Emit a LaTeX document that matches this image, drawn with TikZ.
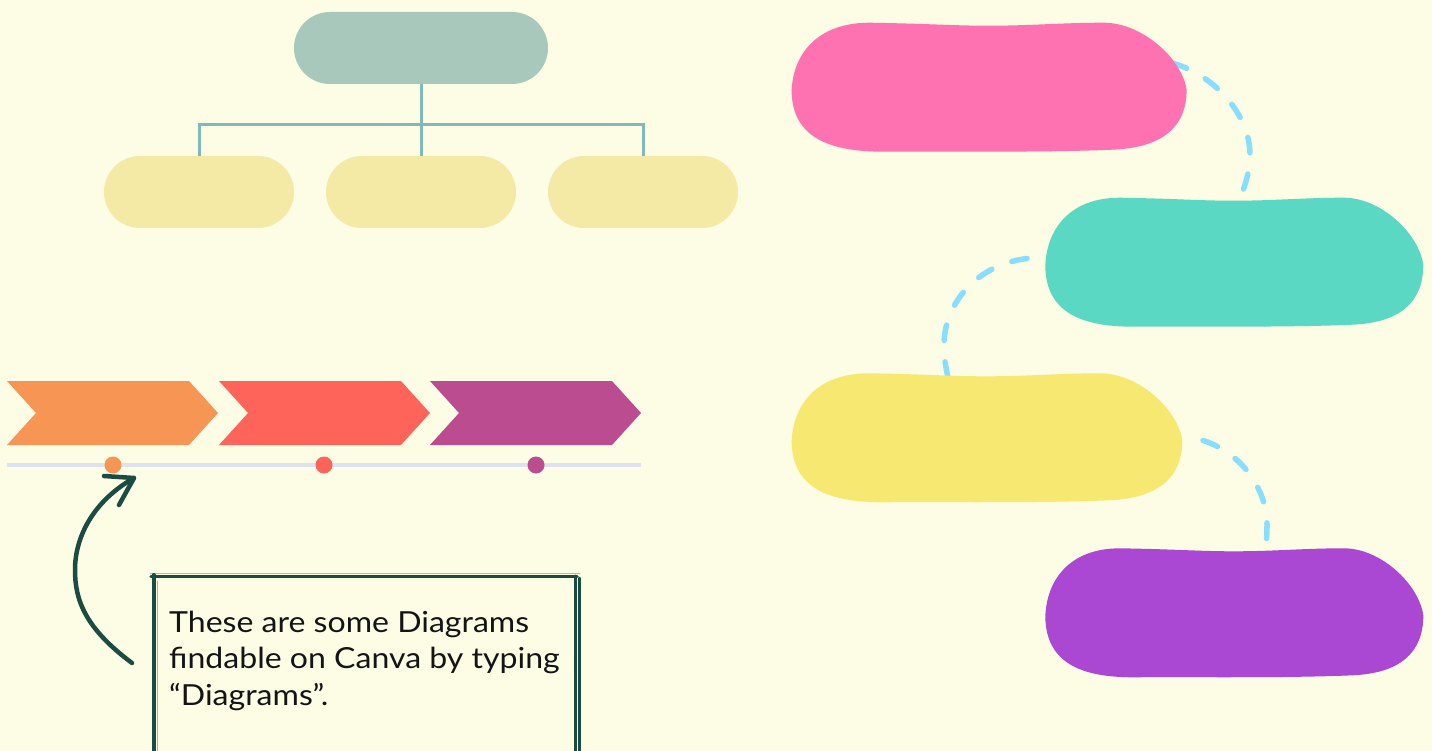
\documentclass[tikz,border=0pt]{standalone}
\usepackage{fontspec}
\setmainfont{Lato}[FakeStretch=1.105]
\definecolor{bgc}{HTML}{FCFDE4}
\definecolor{orgtopc}{HTML}{A8C8BC}
\definecolor{orgbotc}{HTML}{F4EAA5}
\definecolor{orglinec}{HTML}{80BAB8}
\definecolor{chevA}{HTML}{F79654}
\definecolor{chevB}{HTML}{FF645B}
\definecolor{chevC}{HTML}{BC4C90}
\definecolor{timec}{HTML}{DEE2F0}
\definecolor{darkg}{HTML}{1B4C41}
\definecolor{textc}{HTML}{141414}
\definecolor{pinkc}{HTML}{FF72B1}
\definecolor{tealc}{HTML}{5AD8C3}
\definecolor{yellowc}{HTML}{F7E871}
\definecolor{purplec}{HTML}{AA47D3}
\definecolor{dashc}{HTML}{88DEFD}
\def\blobpath{(0,69) .. controls (1,32) and (25,0) .. (78,0) .. controls (140,1) and (160,3) .. (197,3) .. controls (240,3) and (270,0) .. (312,0) .. controls (350,0) and (390,35) .. (395,67) .. controls (395,105) and (370,125) .. (321,127) .. controls (250,130) and (150,128.5) .. (92,129) .. controls (38,129) and (1,115) .. (0,69) -- cycle}
\begin{document}
\begin{tikzpicture}[x=1pt,y=-1pt,
  orgtop/.style={fill=orgtopc, rounded corners=36pt, minimum width=254pt, minimum height=72pt, inner sep=0pt},
  orgbot/.style={fill=orgbotc, rounded corners=36pt, minimum width=190pt, minimum height=72pt, inner sep=0pt},
  orgline/.style={draw=orglinec, line width=3pt},
  dashline/.style={draw=dashc, line width=5.5pt, line cap=round, dash pattern=on 15.5pt off 21.5pt},
  dotnode/.style={circle, inner sep=0pt, minimum size=17pt},
  txt/.style={anchor=base west, inner sep=0pt, font=\fontsize{29}{35}\selectfont, text=textc},
  penline/.style={draw=darkg, line cap=round, line join=round}]
\useasboundingbox (0,0) rectangle (1432,751);
\fill[bgc] (0,0) rectangle (1432,751);
% org chart
\node[orgtop] (top) at (421,48) {};
\node[orgbot] (b1) at (199,192) {};
\node[orgbot] (b2) at (421,192) {};
\node[orgbot] (b3) at (643,192) {};
\coordinate (bus) at (421,125);
\draw[orgline] (top.south) -- (b2.north);
\draw[orgline] (b1.north) -- (b1.north |- bus) -- (b3.north |- bus) -- (b3.north);
% chevrons
\fill[chevA] (7,381) -- (189,381) -- (218,413) -- (189,445) -- (7,445) -- (36,413) -- cycle;
\fill[chevB] (219,381) -- (401,381) -- (430,413) -- (401,445) -- (219,445) -- (248,413) -- cycle;
\fill[chevC] (430,381) -- (612,381) -- (641,413) -- (612,445) -- (430,445) -- (459,413) -- cycle;
% timeline
\coordinate (tl0) at (7,465);
\coordinate (tl1) at (641,465);
\draw[timec, line width=4pt] (tl0) -- (tl1);
\node[dotnode, fill=chevA] (p1) at (113,465) {};
\node[dotnode, fill=chevB] (p2) at (324,465) {};
\node[dotnode, fill=chevC] (p3) at (536,465) {};
% curved arrow
\coordinate (as) at (132,663);
\coordinate (ae) at (134,478);
\draw[penline, line width=4.5pt] (as) .. controls (85,628) and (75,600) .. (75,570) .. controls (75,535) and (95,500) .. (ae);
\draw[penline, line width=4.5pt] (104,476) -- (ae) -- (119,505);
% text frame
\draw[penline, line width=1pt, draw opacity=0.35] (150,573) -- (580,573);
\draw[penline, line width=4pt] (153.5,575) -- (153.5,755);
\draw[penline, line width=1pt, draw opacity=0.4] (157.5,581) -- (157.5,755);
\draw[penline, line width=3.5pt] (151,576.5) -- (577,576.5);
\draw[penline, line width=3pt] (575,576) -- (575,755);
\draw[penline, line width=2.5pt] (579.5,578) -- (579.5,755);
\node[txt] (t1) at (169,632) {These are some Diagrams};
\node[txt] (t2) at (169,668) {findable on Canva by typing};
\node[txt] (t3) at (169,705) {“Diagrams”.};
% dashed connectors
\coordinate (pinkR) at (1172,63);
\coordinate (tealT) at (1238,205);
\coordinate (tealL) at (1027,258.5);
\coordinate (yelT) at (951,390);
\coordinate (yelR) at (1203,440.5);
\coordinate (purT) at (1263,560);
\draw[dashline] (pinkR) .. controls (1215,75) and (1250,115) .. (1250,155) .. controls (1250,172) and (1245,185) .. (tealT);
\draw[dashline] (tealL) .. controls (975,265) and (944,305) .. (944,345) .. controls (944,360) and (946,370) .. (yelT);
\draw[dashline] (yelR) .. controls (1240,452) and (1267,488) .. (1267,525) .. controls (1267,537) and (1266,547) .. (purT);
% blobs
\fill[pinkc, shift={(791.6,22.7)}] \blobpath;
\fill[tealc, shift={(1045.3,197.7)}, xscale=0.957] \blobpath;
\fill[yellowc, shift={(791.6,373.3)}, xscale=0.989] \blobpath;
\fill[purplec, shift={(1045.3,548.3)}, xscale=0.957] \blobpath;
\end{tikzpicture}
\end{document}
